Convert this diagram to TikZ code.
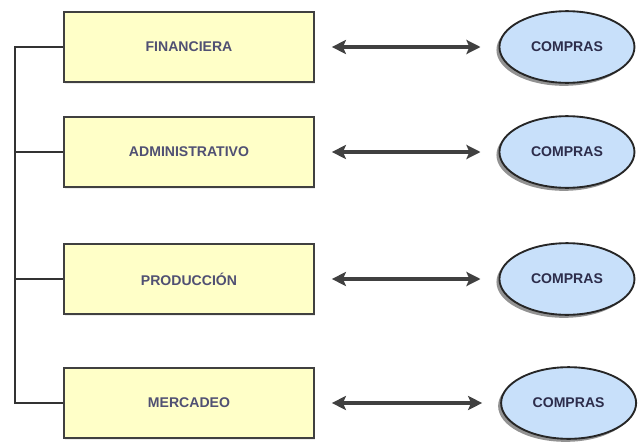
\documentclass[tikz,border=0pt]{standalone}
\usepackage{fontspec}
\setmainfont{Liberation Sans}
\usetikzlibrary{positioning,shadows,arrows.meta,shapes.geometric}

\definecolor{areafill}{RGB}{255,255,200}
\definecolor{comprafill}{RGB}{200,224,250}
\definecolor{areatext}{RGB}{80,80,115}
\definecolor{compratext}{RGB}{45,45,75}

\begin{document}
\begin{tikzpicture}[x=0.03cm, y=-0.03cm,
  area/.style={draw=black!75, line width=2pt, rectangle, fill=areafill,
    minimum width=7.5cm, minimum height=2.1cm, text=areatext,
    font=\fontsize{12}{14}\selectfont\bfseries,
    drop shadow={shadow xshift=0.04cm, shadow yshift=-0.05cm, fill=black!15}},
  compra/.style={draw=black!85, line width=1.6pt, ellipse, fill=comprafill,
    minimum width=4.05cm, minimum height=2.15cm, text=compratext,
    font=\fontsize{12}{14}\selectfont\bfseries,
    drop shadow={shadow xshift=-0.09cm, shadow yshift=-0.09cm, fill=black!85}},
  link/.style={{Stealth[length=12pt,width=12pt,inset=2.5pt]}-{Stealth[length=12pt,width=12pt,inset=2.5pt]},
    line width=3pt, draw=black!75, shorten <=0.5cm, shorten >=0.54cm},
  bus/.style={draw=black!80, line width=2pt}]
  \useasboundingbox (0,0) rectangle (639,444);

  % areas
  \node[area] (fin) at (189,47) {FINANCIERA};
  \node[area] (adm) at (189,152) {ADMINISTRATIVO};
  \node[area] (pro) at (189,279) {PRODUCCIÓN};
  \node[area] (mer) at (189,403) {MERCADEO};

  % compras
  \node[compra, right=5.5cm of fin] (c1) {COMPRAS};
  \node[compra, right=5.5cm of adm] (c2) {COMPRAS};
  \node[compra, right=5.5cm of pro] (c3) {COMPRAS};
  \node[compra, right=5.55cm of mer] (c4) {COMPRAS};

  \draw[link] (fin) -- (c1);
  \draw[link] (adm) -- (c2);
  \draw[link] (pro) -- (c3);
  \draw[link] (mer) -- (c4);

  % bus on the left
  \coordinate (bus) at (15,0);
  \draw[bus] (fin.west) -- (fin.west -| bus) |- (mer.west);
  \draw[bus] (adm.west) -- (adm.west -| bus);
  \draw[bus] (pro.west) -- (pro.west -| bus);
\end{tikzpicture}
\end{document}
